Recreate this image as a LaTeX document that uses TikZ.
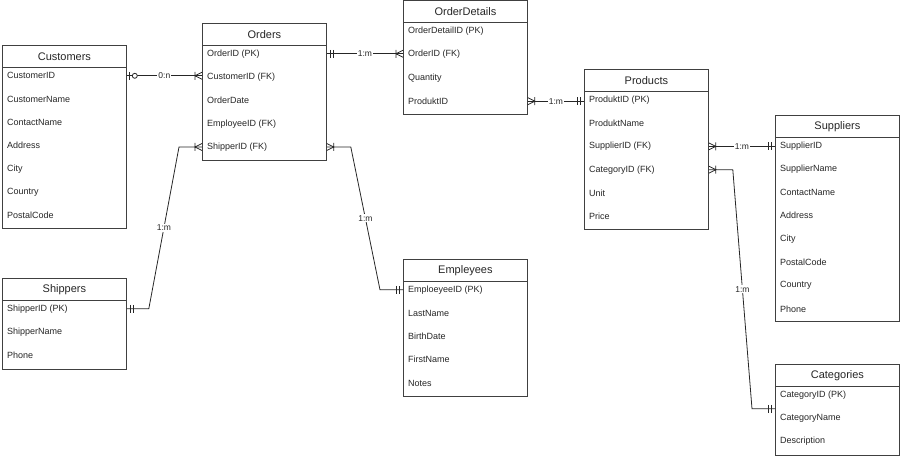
\documentclass[tikz,border=0pt]{standalone}
\usepackage{fontspec}
\setmainfont{Liberation Sans}
\usetikzlibrary{calc}
\tikzset{
  tbl/.style={rectangle, draw=black!75, line width=0.8pt, fill=white, anchor=north west,
    minimum width=124pt, inner sep=0pt},
  tblhead/.style={rectangle, draw=black!75, line width=0.8pt, anchor=north, minimum width=124pt,
    minimum height=22pt, inner sep=0pt, font=\fontsize{11}{13}\selectfont, text=black!85},
  field/.style={anchor=west, inner sep=0pt, font=\fontsize{9}{11}\selectfont, text=black!85},
  rel/.style={draw=black!85, line width=0.8pt},
  card/.style={fill=white, inner sep=1pt, font=\fontsize{8.5}{10}\selectfont, text=black!85},
  one/.pic={\draw[rel] (4,-4) -- (4,4) (7,-4) -- (7,4);},
  many/.pic={\draw[rel] (0,-3.5) -- (7,0) -- (0,3.5) (7,-4) -- (7,4);},
  zeroone/.pic={\draw[rel] (3,-4) -- (3,4); \draw[rel, fill=white] (8,0) circle (2.5);},
}
% name, left, top, number of fields, title, fields
\newcommand{\erentity}[6]{%
  \node[tbl, minimum height=22pt+23pt*#4] (#1) at (#2,#3) {};
  \node[tblhead] (#1-h) at (#1.north) {#5};
  \foreach \fld [count=\i] in {#6}
    \node[field] (#1-\i) at ($(#1.north west)+(5,7.5+23.3*\i)$) {\fld};
}

\begin{document}
\begin{tikzpicture}[x=1pt, y=-1pt]
  \useasboundingbox (0,0) rectangle (900,457);

  \erentity{cust}{2}{45}{7}{Customers}{CustomerID, CustomerName, ContactName, Address, City, Country, PostalCode}
  \erentity{ord}{202}{23}{5}{Orders}{{OrderID (PK)}, {CustomerID (FK)}, OrderDate, {EmployeeID (FK)}, {ShipperID (FK)}}
  \erentity{od}{403}{0.5}{4}{OrderDetails}{{OrderDetailID (PK)}, {OrderID (FK)}, Quantity, ProduktID}
  \erentity{prod}{584}{69}{6}{Products}{{ProduktID (PK)}, ProduktName, {SupplierID (FK)}, {CategoryID (FK)}, Unit, Price}
  \erentity{sup}{775}{115}{8}{Suppliers}{SupplierID, SupplierName, ContactName, Address, City, PostalCode, Country, Phone}
  \erentity{ship}{2}{278}{3}{Shippers}{{ShipperID (PK)}, ShipperName, Phone}
  \erentity{emp}{403}{259}{5}{Empleyees}{{EmploeyeeID (PK)}, LastName, BirthDate, FirstName, Notes}
  \erentity{cat}{775}{364}{3}{Categories}{{CategoryID (PK)}, CategoryName, Description}

  % relations
  \draw[rel] (cust.east |- cust-1) -- node[card] {0:n} (ord.west |- cust-1);
  \pic at (cust.east |- cust-1) {zeroone};
  \pic[xscale=-1] at (ord.west |- cust-1) {many};

  \draw[rel] (ord.east |- ord-1) -- node[card] {1:m} (od.west |- ord-1);
  \pic at (ord.east |- ord-1) {one};
  \pic[xscale=-1] at (od.west |- ord-1) {many};

  \draw[rel] (od.east |- od-4) -- node[card] {1:m} (prod.west |- od-4);
  \pic at (od.east |- od-4) {many};
  \pic[xscale=-1] at (prod.west |- od-4) {one};

  \draw[rel] (prod.east |- prod-3) -- node[card] {1:m} (sup.west |- prod-3);
  \pic at (prod.east |- prod-3) {many};
  \pic[xscale=-1] at (sup.west |- prod-3) {one};

  \coordinate (catin) at ($(cat.west |- cat-1)+(0,14)$);
  \draw[rel] (prod.east |- prod-4) -- ++(24,0)
    -- node[card] {1:m} ($(catin)+(-23,0)$) -- (catin);
  \pic at (prod.east |- prod-4) {many};
  \pic[xscale=-1] at (catin) {one};

  \draw[rel] (ship.east |- ship-1) -- ++(22,0)
    -- node[card] {1:m} ($(ord.west |- ord-5)+(-23,0)$) -- (ord.west |- ord-5);
  \pic at (ship.east |- ship-1) {one};
  \pic[xscale=-1] at (ord.west |- ord-5) {many};

  \draw[rel] (ord.east |- ord-5) -- ++(24,0)
    -- node[card] {1:m} ($(emp.west |- emp-1)+(-23,0)$) -- (emp.west |- emp-1);
  \pic at (ord.east |- ord-5) {many};
  \pic[xscale=-1] at (emp.west |- emp-1) {one};
\end{tikzpicture}
\end{document}
